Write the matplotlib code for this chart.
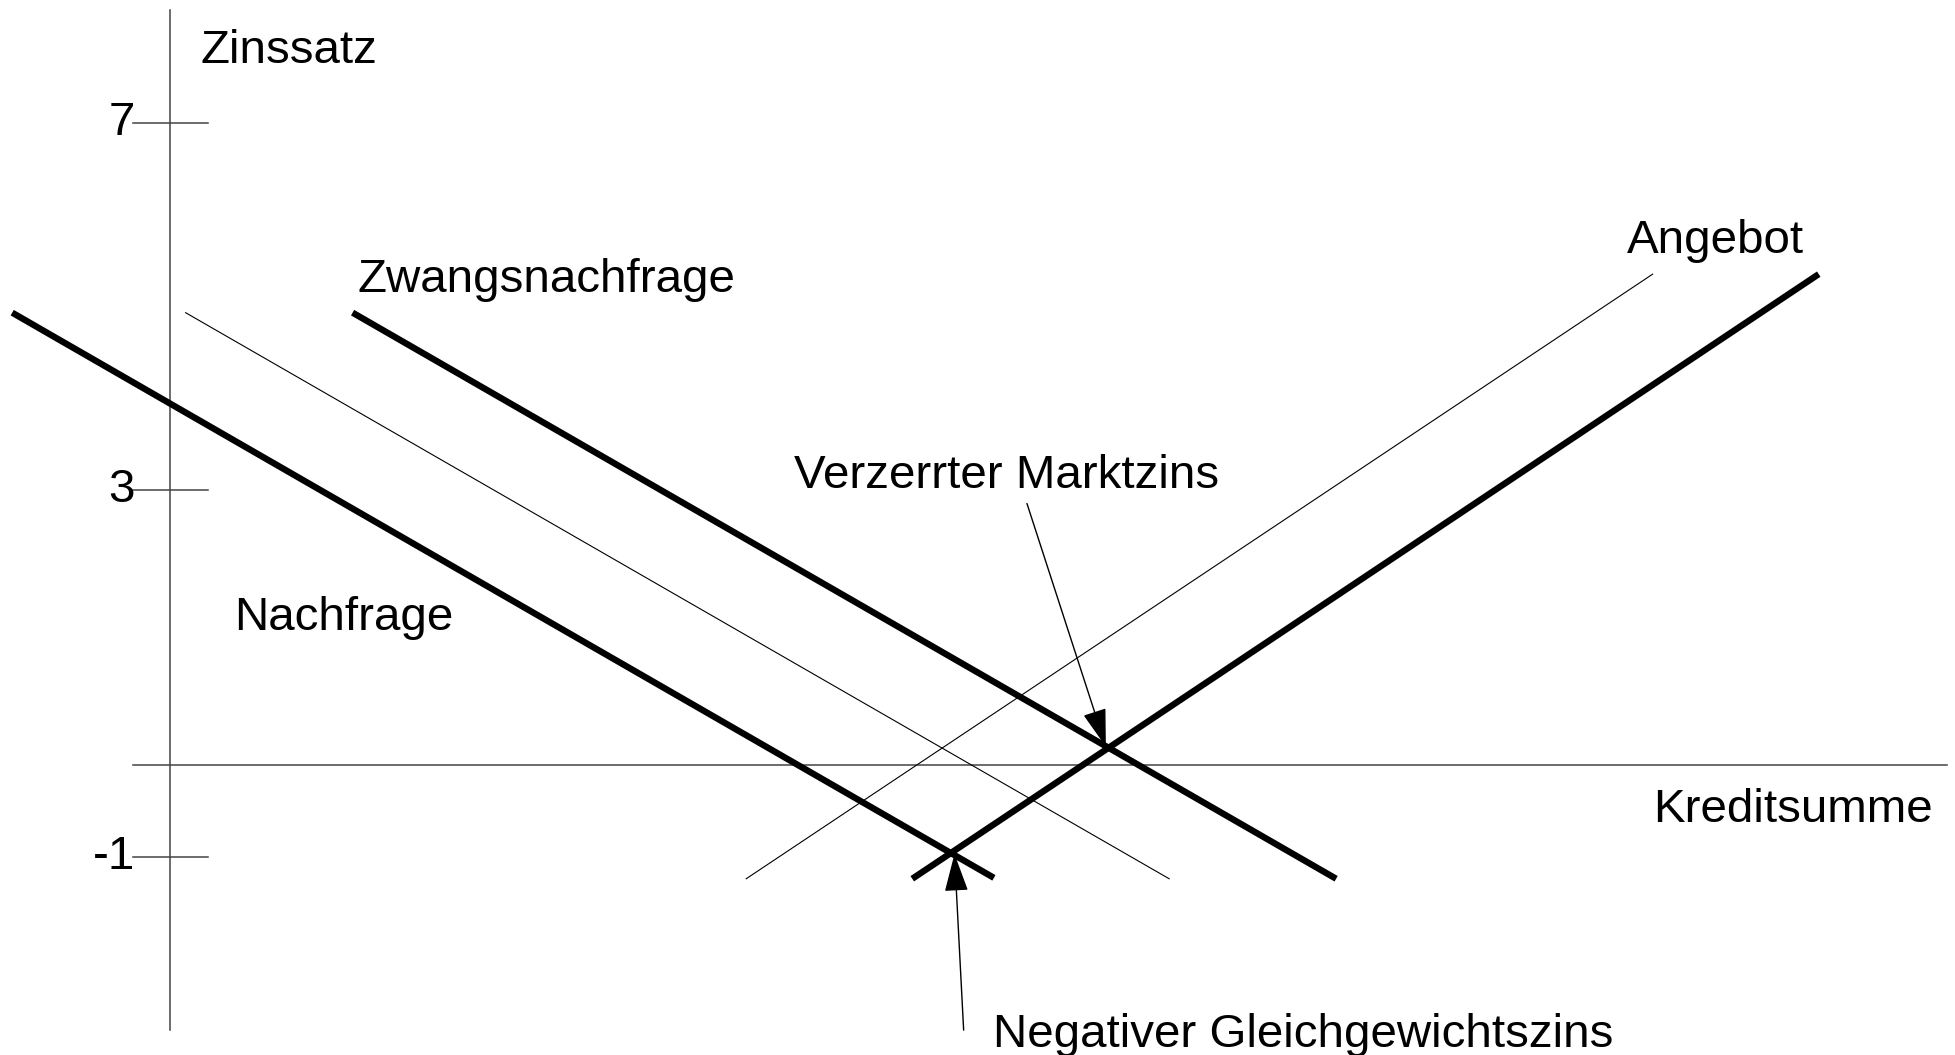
import matplotlib

matplotlib.use("Agg")

import matplotlib.pyplot as plt

# curve end points (Kreditsumme, Zinssatz)
nachfrage_x = [-1.72, 8.98]
nachfrage_y = [4.93, -1.23]
nachfrage_alt_x = [0.17, 10.89]
nachfrage_alt_y = [4.93, -1.24]
zwang_x = [1.99, 12.71]
zwang_y = [4.93, -1.24]
angebot_x = [8.09, 17.97]
angebot_y = [-1.24, 5.35]
angebot_alt_x = [6.28, 16.16]
angebot_alt_y = [-1.24, 5.35]

y_ticks = [7, 3, -1]
y_tick_labels = ["7", "3", "-1"]

# annotation points
markt_zins = (10.20, 0.20)
markt_zins_from = (9.34, 2.85)
gg_zins = (8.55, -0.97)
gg_zins_from = (8.65, -2.89)

plt.rcParams["font.family"] = ["Liberation Sans", "DejaVu Sans"]
FS = 34.2

fig = plt.figure(figsize=(19.56, 10.55), dpi=100)
ax = fig.add_axes([0, 0, 1, 1])
ax.set_xlim(-1.853, 19.466)
ax.set_ylim(-3.161, 8.338)
ax.axis("off")

axis_col = "#444444"
ax.plot([0, 0], [-2.89, 8.23], color=axis_col, lw=1.1)
ax.plot([-0.40, 19.37], [0, 0], color=axis_col, lw=1.1)
for t, lab in zip(y_ticks, y_tick_labels):
    ax.plot([-0.40, 0.41], [t, t], color=axis_col, lw=1.1)
    ax.text(-0.38, t, lab, fontsize=FS, ha="right", va="center")

ax.plot(nachfrage_alt_x, nachfrage_alt_y, color="black", lw=0.8)
ax.plot(angebot_alt_x, angebot_alt_y, color="black", lw=0.8)
ax.plot(nachfrage_x, nachfrage_y, color="black", lw=4.6, solid_capstyle="butt")
ax.plot(zwang_x, zwang_y, color="black", lw=4.6, solid_capstyle="butt")
ax.plot(angebot_x, angebot_y, color="black", lw=4.6, solid_capstyle="butt")

arrow = dict(arrowstyle="-|>,head_length=2.4,head_width=0.75", color="black",
             lw=1.0, shrinkA=0, shrinkB=0)
ax.annotate("", xy=markt_zins, xytext=markt_zins_from, arrowprops=arrow)
ax.annotate("", xy=gg_zins, xytext=gg_zins_from, arrowprops=arrow)

ax.text(0.33, 7.78, "Zinssatz", fontsize=FS, ha="left", va="center")
ax.text(2.04, 5.29, "Zwangsnachfrage", fontsize=FS, ha="left", va="center")
ax.text(0.70, 1.60, "Nachfrage", fontsize=FS, ha="left", va="center")
ax.text(6.80, 3.15, "Verzerrter Marktzins", fontsize=FS, ha="left", va="center")
ax.text(15.88, 5.71, "Angebot", fontsize=FS, ha="left", va="center")
ax.text(16.16, -0.49, "Kreditsumme", fontsize=FS, ha="left", va="center")
ax.text(8.97, -2.94, "Negativer Gleichgewichtszins", fontsize=FS, ha="left", va="center")

fig.savefig("out.png", dpi=100)
